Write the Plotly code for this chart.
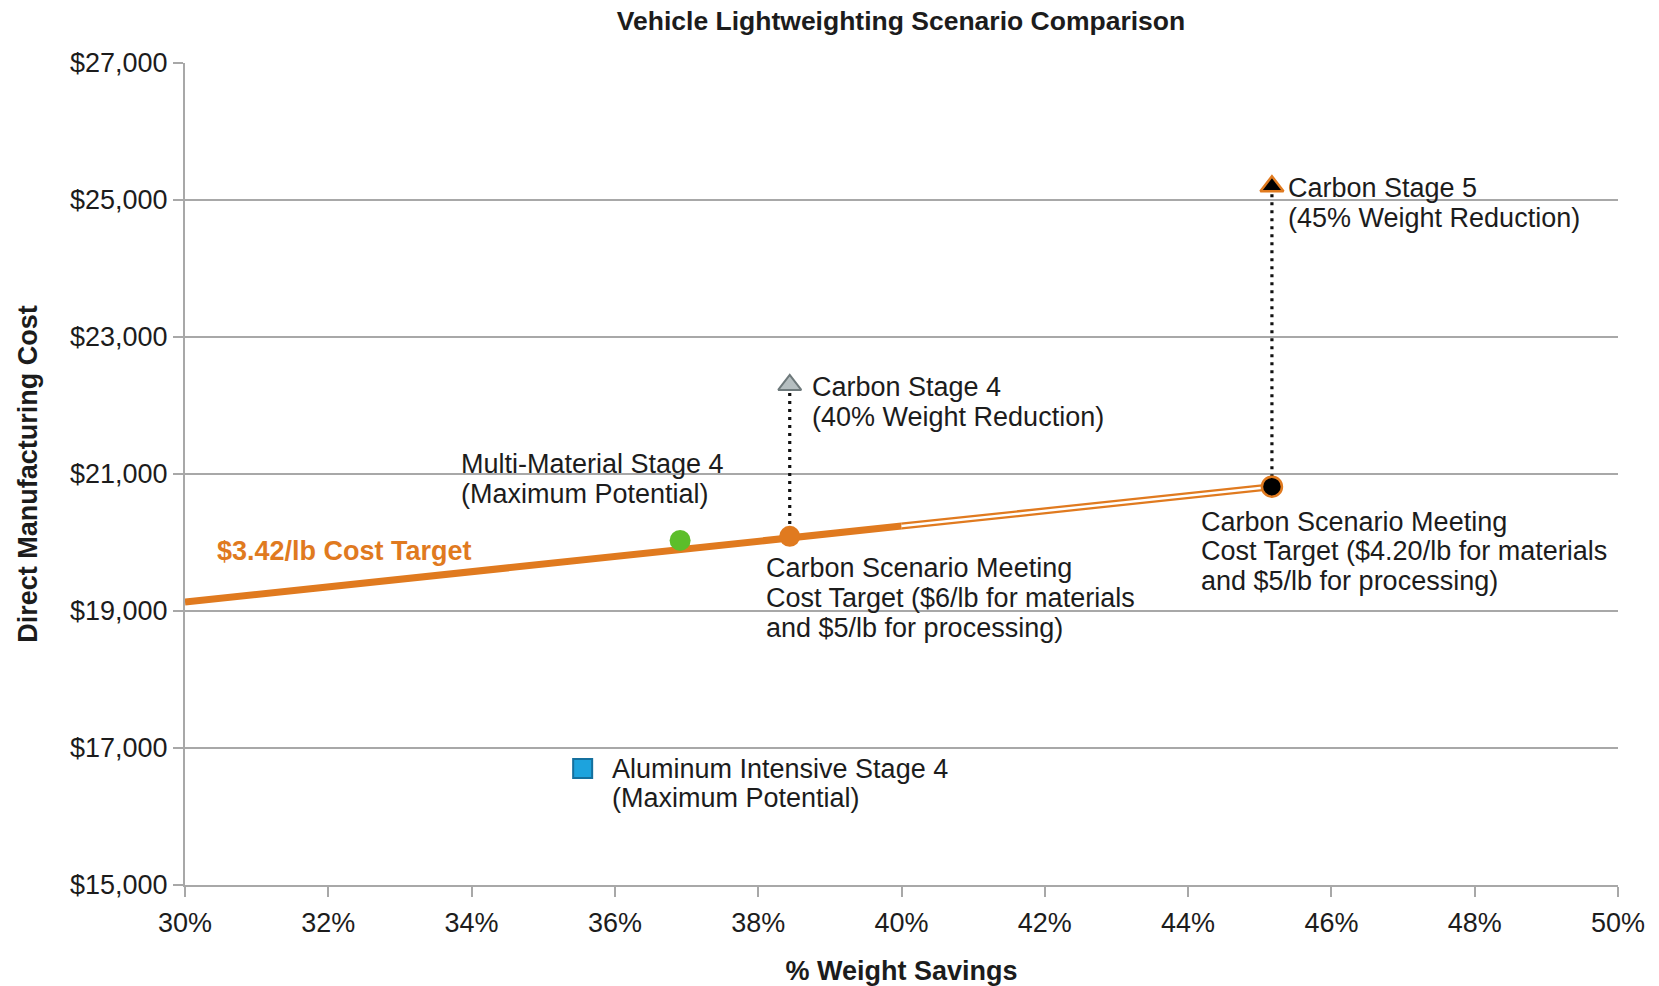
import plotly.graph_objects as go

# ---- data -------------------------------------------------------------
# cost-target line ($3.42/lb): solid up to 40 %, outlined beyond
target_x = [30, 40, 45.17]
target_y = [19130, 20240, 20815]

# scenario points: % weight savings vs direct manufacturing cost
alu_x, alu_y = [35.55], [16700]            # Aluminum Intensive Stage 4
multi_x, multi_y = [36.91], [20030]        # Multi-Material Stage 4
c4_x, c4_y = [38.44], [22300]              # Carbon Stage 4
c4_target_x, c4_target_y = [38.44], [20090]
c5_x, c5_y = [45.17], [25200]              # Carbon Stage 5
c5_target_x, c5_target_y = [45.17], [20815]

x_ticks = [30, 32, 34, 36, 38, 40, 42, 44, 46, 48, 50]
x_tick_text = ["30%", "32%", "34%", "36%", "38%", "40%",
               "42%", "44%", "46%", "48%", "50%"]
y_ticks = [15000, 17000, 19000, 21000, 23000, 25000, 27000]
y_tick_text = ["$15,000", "$17,000", "$19,000", "$21,000",
               "$23,000", "$25,000", "$27,000"]

label_c5 = ["Carbon Stage 5", "(45% Weight Reduction)"]
label_c4 = ["Carbon Stage 4", "(40% Weight Reduction)"]
label_multi = ["Multi-Material Stage 4", "(Maximum Potential)"]
label_c4_target = ["Carbon Scenario Meeting",
                   "Cost Target ($6/lb for materials",
                   "and $5/lb for processing)"]
label_c5_target = ["Carbon Scenario Meeting",
                   "Cost Target ($4.20/lb for materials",
                   "and $5/lb for processing)"]
label_alu = ["Aluminum Intensive Stage 4", "(Maximum Potential)"]
label_target = "$3.42/lb Cost Target"

# ---- style ------------------------------------------------------------
FONT = "Liberation Sans, Arial, sans-serif"
FS = 27
TXT = "#1c1c1c"
ORANGE = "#E07A1F"
GRID = "#A8A8A8"
LINE_H = 29.6

fig = go.Figure()

# cost-target line
fig.add_trace(go.Scatter(x=target_x[:2], y=target_y[:2], mode="lines",
                         line=dict(color=ORANGE, width=7), hoverinfo="skip"))
fig.add_trace(go.Scatter(x=target_x[1:], y=target_y[1:], mode="lines",
                         line=dict(color=ORANGE, width=7), hoverinfo="skip"))
fig.add_trace(go.Scatter(x=target_x[1:], y=target_y[1:], mode="lines",
                         line=dict(color="white", width=2.5), hoverinfo="skip"))

# dotted drops from the stage points to the cost-target points
dots = dict(color="#111111", width=3.2, dash="3px,5px")
fig.add_trace(go.Scatter(x=c4_x + c4_target_x, y=c4_y + c4_target_y,
                         mode="lines", line=dots, hoverinfo="skip"))
fig.add_trace(go.Scatter(x=c5_x + c5_target_x, y=c5_y + c5_target_y,
                         mode="lines", line=dots, hoverinfo="skip"))

# markers
def pts(x, y, symbol, fill, edge, ew, size=21):
    fig.add_trace(go.Scatter(x=x, y=y, mode="markers",
                             marker=dict(symbol=symbol, size=size, color=fill,
                                         line=dict(color=edge, width=ew))))

pts(alu_x, alu_y, "square", "#1DA3DD", "#14709E", 2, 19)
pts(multi_x, multi_y, "circle", "#5CBE2A", "#5CBE2A", 0, 21)
pts(c4_target_x, c4_target_y, "circle", ORANGE, ORANGE, 0, 21)
pts(c5_target_x, c5_target_y, "circle", "#000000", ORANGE, 2.5, 20)
pts(c4_x, c4_y, "triangle-up", "#B5BEC0", "#6E797B", 2, 20)
pts(c5_x, c5_y, "triangle-up", "#000000", ORANGE, 2.5, 20)

# ---- labels -----------------------------------------------------------
annotations = []

def block(x, y, lines, dx, dy, color=TXT, bold=False):
    for i, t in enumerate(lines):
        annotations.append(dict(
            x=x, y=y, xref="x", yref="y", text=f"<b>{t}</b>" if bold else t,
            showarrow=False, xanchor="left", yanchor="middle",
            xshift=dx, yshift=dy - i * LINE_H,
            font=dict(family=FONT, size=FS, color=color)))

block(c5_x[0], c5_y[0], label_c5, 14, -2)
block(c4_x[0], c4_y[0], label_c4, 20, -2)
block(multi_x[0], multi_y[0], label_multi, -221, 76)
block(c4_target_x[0], c4_target_y[0], label_c4_target, -26, -32)
block(c5_target_x[0], c5_target_y[0], label_c5_target, -73, -35)
block(alu_x[0], alu_y[0], label_alu, 27, 0)
block(target_x[0], target_y[0], [label_target], 30, 51, color=ORANGE, bold=True)

fig.update_layout(
    width=1659, height=986,
    margin=dict(l=185, r=41, t=63, b=101),
    paper_bgcolor="white", plot_bgcolor="white",
    showlegend=False,
    font=dict(family=FONT, size=FS, color=TXT),
    title=dict(text="<b>Vehicle Lightweighting Scenario Comparison</b>",
               x=0.5431, xanchor="center", y=0.979, yanchor="middle",
               font=dict(family=FONT, size=26.5, color=TXT)),
    annotations=annotations,
    xaxis=dict(range=[30, 50], tickmode="array", tickvals=x_ticks,
               ticktext=x_tick_text, automargin=False,
               showgrid=False, zeroline=False,
               showline=True, linecolor=GRID, linewidth=2,
               ticks="outside", ticklen=10, tickwidth=2, tickcolor=GRID,
               ticklabelstandoff=3,
               tickfont=dict(family=FONT, size=FS, color=TXT),
               title=dict(text="<b>% Weight Savings</b>", standoff=24,
                          font=dict(family=FONT, size=FS, color=TXT))),
    yaxis=dict(range=[15000, 27000], tickmode="array", tickvals=y_ticks,
               ticktext=y_tick_text, automargin=False,
               showgrid=True, gridcolor=GRID,
               gridwidth=2, zeroline=False,
               showline=True, linecolor=GRID, linewidth=2,
               ticks="outside", ticklen=10, tickwidth=2, tickcolor=GRID,
               tickfont=dict(family=FONT, size=FS, color=TXT),
               title=dict(text="<b>Direct Manufacturing Cost</b>", standoff=25,
                          font=dict(family=FONT, size=FS, color=TXT))),
)

fig.write_html("out.html")
